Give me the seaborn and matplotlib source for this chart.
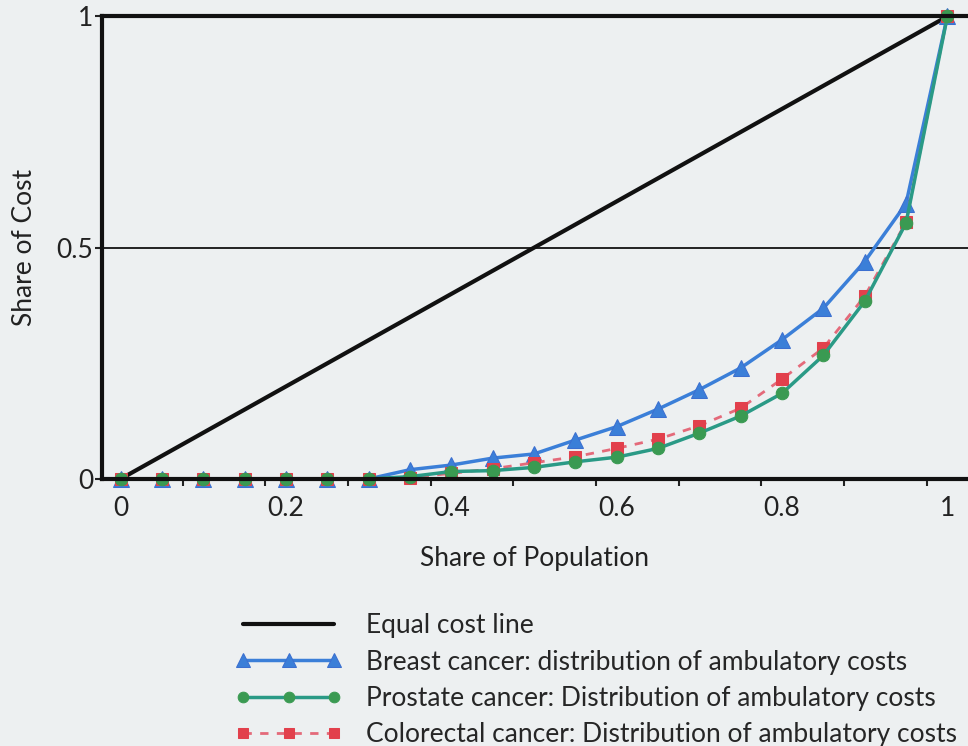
import numpy as np
import pandas as pd
import seaborn as sns
from matplotlib import pyplot as plt
from matplotlib.ticker import FixedLocator

# share of population (x) and cumulative share of cost (y)
population = [0.0, 0.05, 0.10, 0.15, 0.20, 0.25, 0.30, 0.35, 0.40, 0.45, 0.50,
              0.55, 0.60, 0.65, 0.70, 0.75, 0.80, 0.85, 0.90, 0.95, 1.0]
breast = [0, 0, 0, 0, 0, 0, 0, 0.020, 0.030, 0.045, 0.054,
          0.084, 0.113, 0.151, 0.193, 0.240, 0.301, 0.369, 0.470, 0.595, 1.0]
prostate = [0, 0, 0, 0, 0, 0, 0, 0.005, 0.016, 0.018, 0.025,
            0.037, 0.047, 0.066, 0.099, 0.136, 0.185, 0.267, 0.384, 0.553, 1.0]
colorectal = [0, 0, 0, 0, 0, 0, 0, 0.003, 0.012, 0.022, 0.035,
              0.048, 0.066, 0.086, 0.115, 0.153, 0.216, 0.283, 0.395, 0.555, 1.0]
equal_x = [0.0, 1.0]
equal_y = [0.0, 1.0]

labels = ["Equal cost line",
          "Breast cancer: distribution of ambulatory costs",
          "Prostate cancer: Distribution of ambulatory costs",
          "Colorectal cancer: Distribution of ambulatory costs"]

sns.set_theme(style="ticks")
plt.rcParams['font.family'] = ['Lato', 'DejaVu Sans']
bg = '#edf0f1'
fs = 19

fig = plt.figure(figsize=(9.68, 7.46), dpi=100, facecolor=bg)
ax = fig.add_axes([0.105, 0.358, 0.895, 0.62])
ax.set_facecolor(bg)

df = pd.DataFrame({"x": population, "breast": breast,
                   "prostate": prostate, "colorectal": colorectal})

sns.lineplot(x=equal_x, y=equal_y, ax=ax, color='#111111', lw=3, label=labels[0])
sns.lineplot(data=df, x="x", y="breast", ax=ax, color='#3b7fd8', lw=2.5,
             marker='^', markersize=12, markeredgecolor='#3b6fd0', clip_on=False,
             label=labels[1])
sns.lineplot(data=df, x="x", y="colorectal", ax=ax, color='#e46a7a', lw=2,
             linestyle=(0, (3, 3)), marker='s', markersize=9, markerfacecolor='#e2404c',
             markeredgecolor='#e2404c', clip_on=False, label=labels[3])
sns.lineplot(data=df, x="x", y="prostate", ax=ax, color='#2a9a86', lw=2.5,
             marker='o', markersize=9, markerfacecolor='#3a9a52',
             markeredgecolor='#3a9a52', clip_on=False, label=labels[2])

ax.axhline(0.5, color='#222222', lw=1.4, zorder=0)

ax.set_xlim(-0.023, 1.025)
ax.set_ylim(0, 1)
ax.set_xticks([0, 0.2, 0.4, 0.6, 0.8, 1.0])
ax.set_xticklabels(["0", "0.2", "0.4", "0.6", "0.8", "1"])
ax.xaxis.set_minor_locator(FixedLocator([0.075, 0.175, 0.275, 0.375, 0.475,
                                         0.575, 0.675, 0.775, 0.875, 0.975]))
ax.tick_params(axis='x', which='major', length=0, pad=12, labelsize=fs, colors='#222222')
ax.tick_params(axis='x', which='minor', length=5, width=1.5, color='#222222')
ax.set_yticks([0, 0.5, 1.0])
ax.set_yticklabels(["0", "0.5", "1"])
ax.tick_params(axis='y', length=5, width=1.5, pad=1, labelsize=fs, colors='#222222')

ax.set_xlabel("Share of Population", fontsize=fs, color='#222222', labelpad=18)
ax.set_ylabel("Share of Cost", fontsize=fs, color='#222222', labelpad=14)

for side in ['left', 'bottom', 'top']:
    ax.spines[side].set_linewidth(3)
    ax.spines[side].set_color('#111111')
ax.spines['right'].set_visible(False)

handles, labs = ax.get_legend_handles_labels()
order = [labs.index(l) for l in labels]
ax.get_legend().remove()
fig.legend([handles[i] for i in order], [labs[i] for i in order],
           loc='upper left', bbox_to_anchor=(0.243, 0.178), frameon=False,
           fontsize=fs, numpoints=3, handlelength=4.05, handletextpad=0.9,
           labelspacing=0.43, borderaxespad=0, borderpad=0, markerscale=0.85)

plt.savefig('out.png', dpi=100, facecolor=bg)
